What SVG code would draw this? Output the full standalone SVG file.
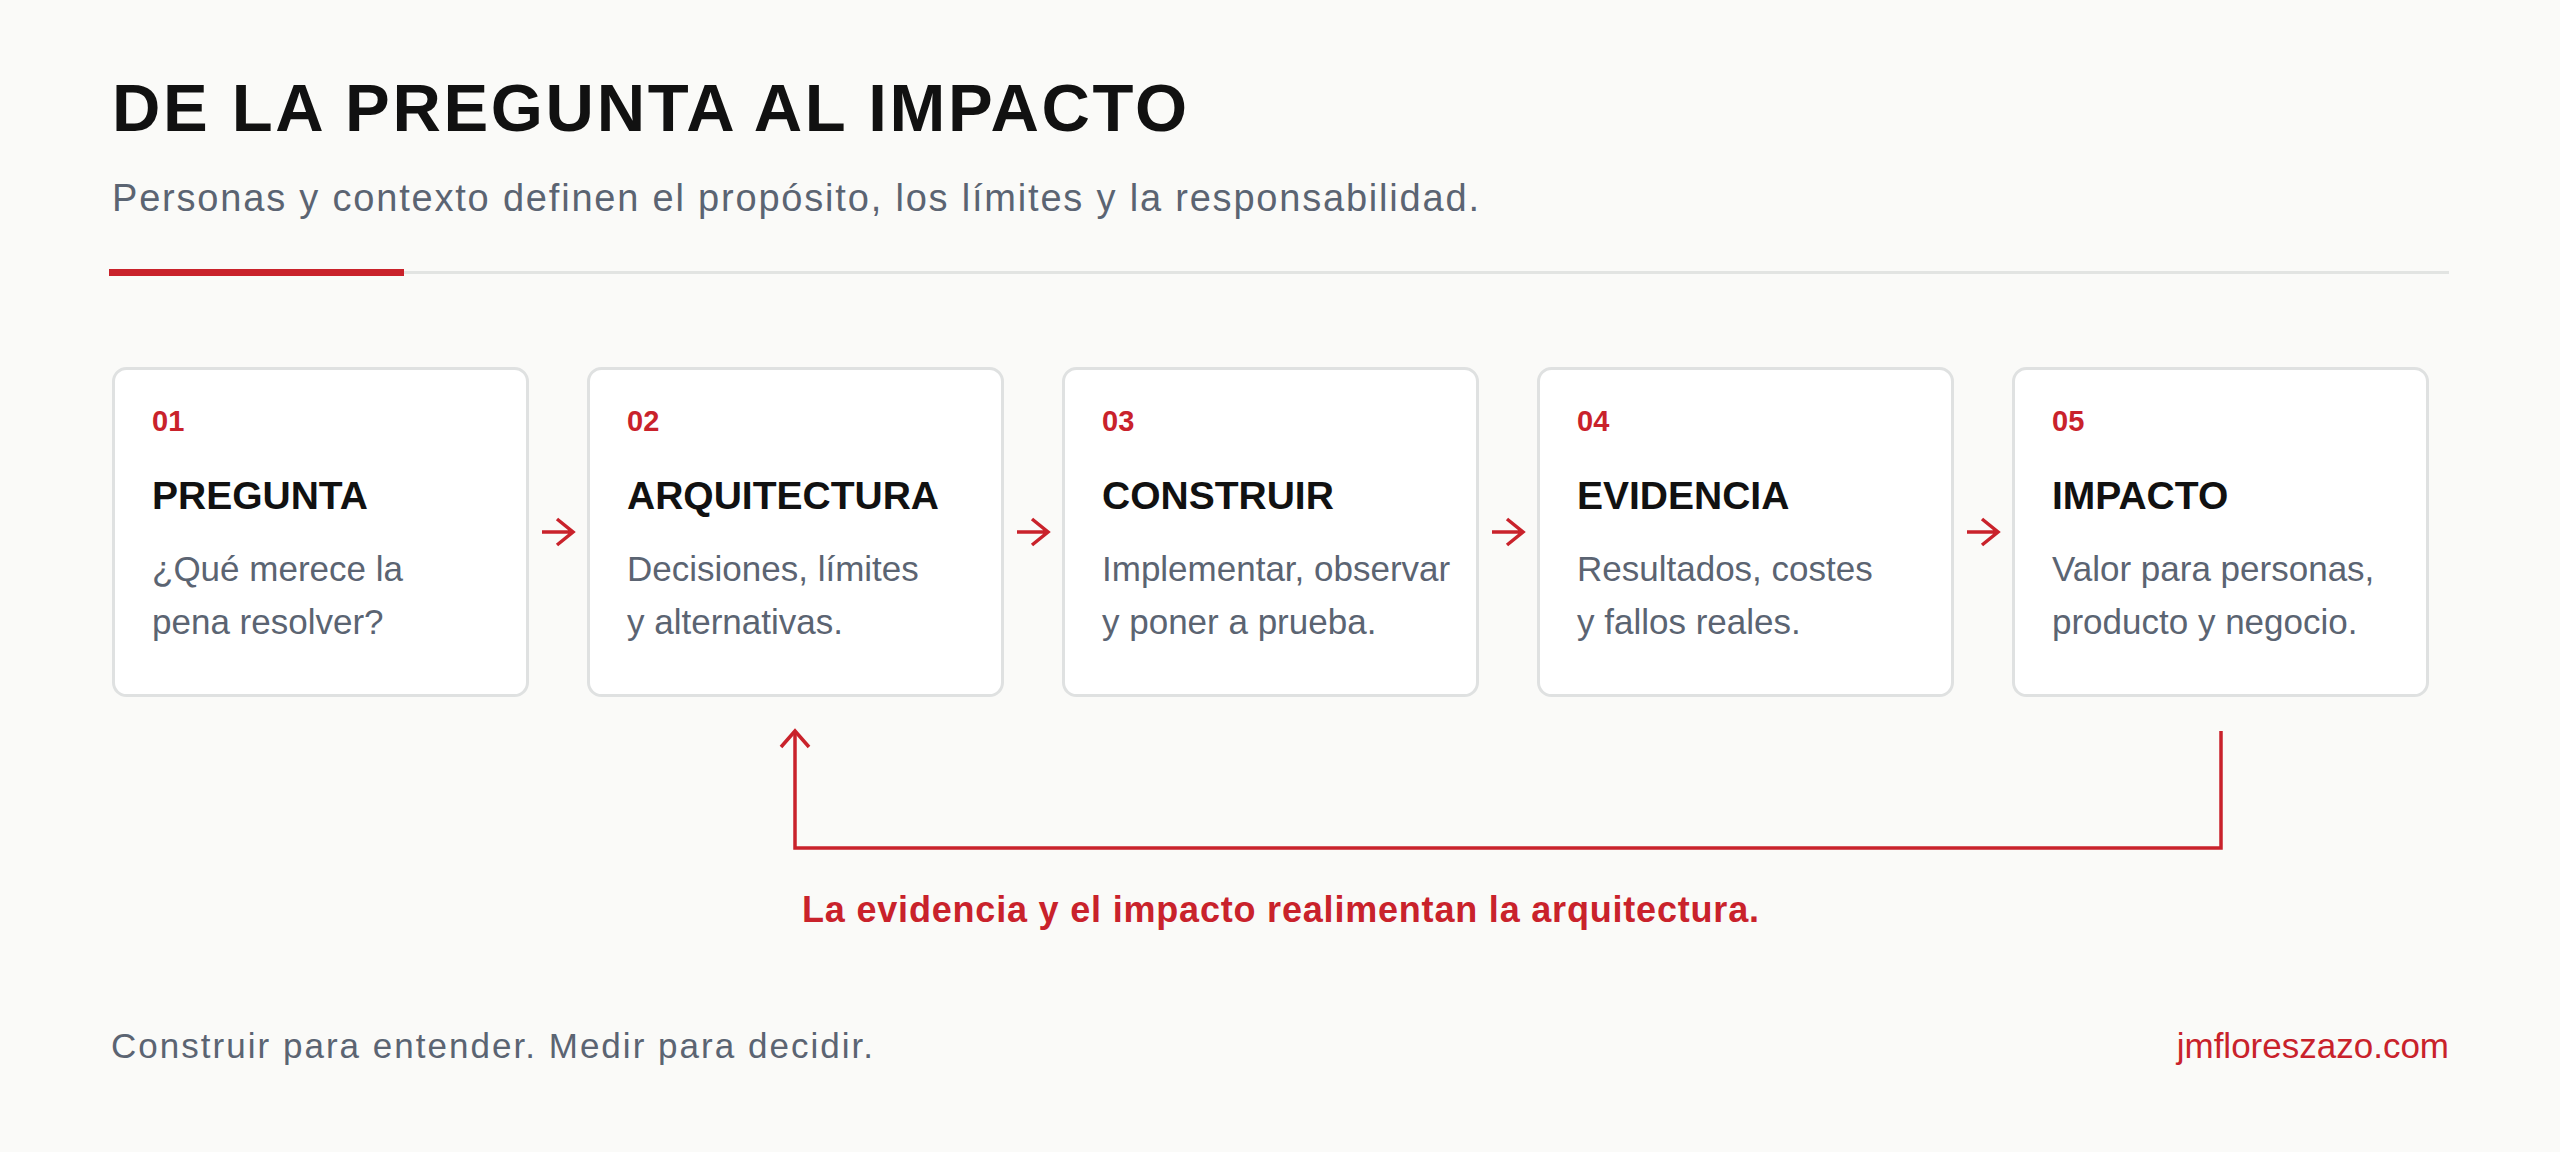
<svg xmlns="http://www.w3.org/2000/svg" width="2560" height="1152" viewBox="0 0 2560 1152">
<style>
text{font-family:"Liberation Sans",Arial,sans-serif}
.title{font-size:67px;font-weight:700;fill:#111111}
.sub{font-size:38px;fill:#5b6472}
.num{font-size:29px;font-weight:700;fill:#c9222b}
.ct{font-size:39px;font-weight:700;fill:#111111}
.cd{font-size:35px;fill:#5b6472}
.card{fill:#ffffff;stroke:#dfe1e1;stroke-width:3}
.conn{fill:none;stroke:#c9222b;stroke-width:3.5;stroke-linecap:butt;stroke-linejoin:miter}
.fb{font-size:36px;font-weight:700;fill:#c9222b}
.foot{font-size:35px;fill:#5b6472}
.site{font-size:35px;fill:#c9222b}
</style>
<rect x="0" y="0" width="2560" height="1152" fill="#fafaf8"/>
<g id="header">
<text class="title" x="112" y="131" textLength="1075" lengthAdjust="spacing">DE LA PREGUNTA AL IMPACTO</text>
<text class="sub" x="112" y="211" textLength="1367" lengthAdjust="spacing">Personas y contexto definen el propósito, los límites y la responsabilidad.</text>
<line x1="404" y1="272.5" x2="2449" y2="272.5" stroke="#e2e4e2" stroke-width="3"/>
<rect x="109" y="269" width="295" height="7" fill="#c9222b"/>
</g>
<g id="node-01">
<rect class="card" x="113.5" y="368.5" width="414" height="327" rx="13"/>
<text class="num" x="152" y="431">01</text>
<text class="ct" x="152" y="509">PREGUNTA</text>
<text class="cd" x="152" y="581">¿Qué merece la</text>
<text class="cd" x="152" y="634">pena resolver?</text>
</g>
<g id="node-02">
<rect class="card" x="588.5" y="368.5" width="414" height="327" rx="13"/>
<text class="num" x="627" y="431">02</text>
<text class="ct" x="627" y="509">ARQUITECTURA</text>
<text class="cd" x="627" y="581">Decisiones, límites</text>
<text class="cd" x="627" y="634">y alternativas.</text>
</g>
<g id="node-03">
<rect class="card" x="1063.5" y="368.5" width="414" height="327" rx="13"/>
<text class="num" x="1102" y="431">03</text>
<text class="ct" x="1102" y="509">CONSTRUIR</text>
<text class="cd" x="1102" y="581">Implementar, observar</text>
<text class="cd" x="1102" y="634">y poner a prueba.</text>
</g>
<g id="node-04">
<rect class="card" x="1538.5" y="368.5" width="414" height="327" rx="13"/>
<text class="num" x="1577" y="431">04</text>
<text class="ct" x="1577" y="509">EVIDENCIA</text>
<text class="cd" x="1577" y="581">Resultados, costes</text>
<text class="cd" x="1577" y="634">y fallos reales.</text>
</g>
<g id="node-05">
<rect class="card" x="2013.5" y="368.5" width="414" height="327" rx="13"/>
<text class="num" x="2052" y="431">05</text>
<text class="ct" x="2052" y="509">IMPACTO</text>
<text class="cd" x="2052" y="581">Valor para personas,</text>
<text class="cd" x="2052" y="634">producto y negocio.</text>
</g>
<g id="connectors">
<path class="conn" d="M542 532H573M557 519L573 532L557 545"/>
<path class="conn" d="M1017 532H1048M1032 519L1048 532L1032 545"/>
<path class="conn" d="M1492 532H1523M1507 519L1523 532L1507 545"/>
<path class="conn" d="M1967 532H1998M1982 519L1998 532L1982 545"/>
<path class="conn" d="M2221 731V848H795V731"/>
<path class="conn" d="M781 747L795 731L809 747"/>
</g>
<g id="feedback-label">
<text class="fb" x="802" y="922" textLength="957" lengthAdjust="spacing">La evidencia y el impacto realimentan la arquitectura.</text>
</g>
<g id="footer">
<text class="foot" x="111" y="1058" textLength="762" lengthAdjust="spacing">Construir para entender. Medir para decidir.</text>
<text class="site" x="2449" y="1058" text-anchor="end">jmfloreszazo.com</text>
</g>
</svg>
